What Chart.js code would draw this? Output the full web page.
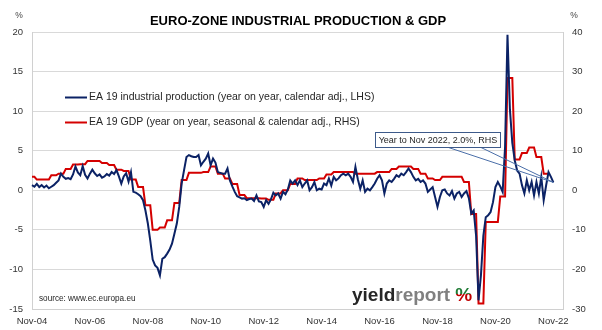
<!DOCTYPE html>
<html>
<head>
<meta charset="utf-8">
<script src="https://cdn.jsdelivr.net/npm/chart.js@4.4.0/dist/chart.umd.min.js"></script>
<style>
  html, body { margin: 0; padding: 0; background: #fff; }
  canvas { display: block; }
</style>
</head>
<body>
<canvas id="ipGdpChart" width="602" height="330"></canvas>
<script>
// EA19 industrial production, % year on year, monthly Nov-04 .. Nov-22
const ipYoY = [
    1.3, 0.9,
    1.6, 0.8, 1.3, 0.7, 1.2, 0.5, 0.9, 1.3, 1.9, 2.5, 4.2, 3.4,
    2.9, 3.1, 2.8, 4.0, 6.0, 4.5, 3.8, 6.1, 3.9, 3.0, 4.2, 5.2,
    4.3, 3.6, 4.0, 3.2, 3.5, 4.1, 3.7, 4.6, 4.1, 5.1, 3.5, 1.7,
    3.5, 4.3, 2.2, 4.6, -0.4, -0.6, -1.0, -1.5, -2.5, -5.1, -8.4, -12.7,
    -17.5, -19.0, -19.6, -21.5, -17.3, -16.9, -16.0, -15.0, -13.5, -11.0, -8.4, -4.2,
    1.7, 5.1, 8.4, 8.9, 8.6, 8.4, 8.4, 8.9, 6.3, 7.2, 8.0, 9.3,
    6.3, 8.0, 7.0, 4.6, 4.4, 4.2, 4.2, 5.5, 2.5, 1.0, -0.4, -1.5,
    -1.8, -2.1, -2.0, -2.5, -2.2, -2.1, -2.7, -1.3, -2.8, -3.0, -4.2, -2.5,
    -3.4, -2.3, -0.6, -1.3, -0.8, -2.1, -0.4, -1.0, 0.2, 2.5, 1.7, 2.5,
    1.3, 2.5, 0.8, 1.7, 2.5, 0.0, 0.8, 2.1, 0.0, 0.4, 0.2, 1.7,
    1.3, 3.0, 1.2, 3.4, 2.5, 3.0, 3.8, 4.2, 3.8, 4.2, 3.4, 2.1,
    5.9, 2.8, 0.4, 2.5, -0.4, 0.4, 0.0, 0.8, 1.7, 2.9, 3.8, 2.5,
    -0.8, 1.7, 2.5, 2.1, 2.9, 3.8, 3.4, 4.2, 3.8, 4.6, 5.5, 4.6,
    3.4, 2.5, 2.9, 2.1, 2.5, 1.7, -0.4, 0.2, 0.8, -1.7, -4.2, -1.7,
    0.0, 0.2, -0.8, -1.3, -0.2, -2.1, -0.8, -0.4, -1.7, -0.8, -0.2, -2.0,
    -5.9, -5.1, -11.5, -27.8, -21.5, -11.5, -6.8, -6.3, -5.5, -3.0, 0.8, 2.1,
    1.0, -0.4, 11.0, 39.3, 20.5, 12.0, 7.6, 5.0, 4.2, 1.3, -0.8, 2.5,
    0.0, 2.1, -1.3, 2.1, -0.8, 3.4, -2.5, 1.2, 4.6, 3.4, 2.0
];

// EA19 GDP, % year on year, quarterly Q4-04 .. Q3-22
const gdpYoY = [
    1.7,
    1.35, 1.35, 1.9, 2.1,
    2.7, 3.25, 3.3, 3.7,
    3.7, 3.45, 3.2, 2.6,
    2.45, 1.35, 0.4, -1.9,
    -5.0, -4.7, -3.8, -1.6,
    1.3, 2.2, 2.2, 2.3,
    3.0, 2.1, 1.5, 0.8,
    -0.6, -1.0, -1.0, -1.05,
    -1.2, -0.4, 0.0, 0.8,
    1.5, 1.3, 1.3, 1.5,
    2.0, 2.3, 2.3, 2.3,
    2.1, 2.1, 2.1, 2.3,
    2.3, 2.7, 3.0, 3.0,
    2.7, 2.1, 1.5, 1.3,
    1.7, 1.7, 1.7, 1.05,
    -3.0, -14.3, -4.0, -4.0,
    -0.8, 14.2, 3.9, 4.7,
    5.4, 4.2, 2.1
];

const xTickLabels = ["Nov-04", "Nov-06", "Nov-08", "Nov-10", "Nov-12",
                     "Nov-14", "Nov-16", "Nov-18", "Nov-20", "Nov-22"];
const firstMonth = { year: 2004, month: 10 }; // Nov-04
const lastMonthLabel = "Mar-23";

const chartTitle = "EURO-ZONE INDUSTRIAL PRODUCTION & GDP";
const ipLabel = "EA 19 industrial production (year on year, calendar adj., LHS)";
const gdpLabel = "EA 19 GDP (year on year, seasonal & calendar adj., RHS)";
const calloutText = "Year to Nov 2022, 2.0%, RHS";
const sourceText = "source: www.ec.europa.eu";

const FONT = "'Liberation Sans', Arial, sans-serif";
const BLUE = "#0b2265";
const RED = "#d40000";

// month categories, e.g. "Nov-04"
const monthNames = ["Jan", "Feb", "Mar", "Apr", "May", "Jun",
                    "Jul", "Aug", "Sep", "Oct", "Nov", "Dec"];
const months = [];
let y = firstMonth.year, mo = firstMonth.month;
while (true) {
    const lbl = monthNames[mo] + "-" + String(y % 100).padStart(2, "0");
    months.push(lbl);
    if (lbl === lastMonthLabel) break;
    mo++;
    if (mo > 11) { mo = 0; y++; }
}

// each quarterly GDP figure is held for the three months of its quarter
const gdpMonthly = months.map((m, i) => {
    const q = Math.floor((i + 1) / 3);
    return q < gdpYoY.length ? gdpYoY[q] : null;
});

const decorPlugin = {
    id: "decor",
    afterDraw(chart) {
        const ctx = chart.ctx;
        const area = chart.chartArea;
        ctx.save();

        // title
        ctx.fillStyle = "#000";
        ctx.font = "bold 13px " + FONT;
        ctx.textAlign = "center";
        ctx.textBaseline = "alphabetic";
        ctx.fillText(chartTitle, 298, 25);

        // unit marks over both axes
        ctx.font = "8.5px " + FONT;
        ctx.fillStyle = "#404040";
        ctx.fillText("%", 19, 18);
        ctx.fillText("%", 574, 18);

        // legend inside the plot
        ctx.font = "10.5px " + FONT;
        ctx.textAlign = "left";
        ctx.textBaseline = "middle";
        [[ipLabel, BLUE, 97.5], [gdpLabel, RED, 122.5]].forEach(([text, color, ly]) => {
            ctx.strokeStyle = color;
            ctx.lineWidth = 2;
            ctx.beginPath();
            ctx.moveTo(65, ly);
            ctx.lineTo(87, ly);
            ctx.stroke();
            ctx.fillStyle = "#262626";
            ctx.fillText(text, 89, ly);
        });

        // callout pointing at the last industrial production reading
        const lastIdx = ipYoY.length - 1;
        const px = chart.scales.x.getPixelForValue(lastIdx);
        const py = chart.scales.y1.getPixelForValue(ipYoY[lastIdx]);
        ctx.strokeStyle = "#4a6ea8";
        ctx.lineWidth = 1;
        ctx.beginPath();
        ctx.moveTo(447, 147);
        ctx.lineTo(px, py);
        ctx.moveTo(480, 147);
        ctx.lineTo(px, py);
        ctx.stroke();
        ctx.fillStyle = "#fff";
        ctx.fillRect(375.5, 132.5, 125, 15);
        ctx.strokeStyle = "#3d5a8a";
        ctx.strokeRect(375.5, 132.5, 125, 15);
        ctx.fillStyle = "#262626";
        ctx.font = "9px " + FONT;
        ctx.textAlign = "center";
        ctx.fillText(calloutText, 438, 140.5);

        // source note
        ctx.textAlign = "left";
        ctx.textBaseline = "alphabetic";
        ctx.font = "8.2px " + FONT;
        ctx.fillStyle = "#262626";
        ctx.fillText(sourceText, area.left + 7, 301);

        // yieldreport logo
        ctx.font = "bold 19px 'Liberation Sans', sans-serif";
        let lx = 352;
        const lb = 301;
        ctx.fillStyle = "#262626";
        ctx.fillText("yield", lx, lb);
        lx += ctx.measureText("yield").width;
        ctx.fillStyle = "#808080";
        ctx.fillText("report", lx, lb);
        lx += ctx.measureText("report").width + 5;
        ctx.save();
        ctx.beginPath();
        ctx.rect(lx - 2, lb - 20, 24, 13);
        ctx.clip();
        ctx.fillStyle = "#1e7b34";
        ctx.fillText("%", lx, lb);
        ctx.restore();
        ctx.save();
        ctx.beginPath();
        ctx.rect(lx - 2, lb - 7, 24, 12);
        ctx.clip();
        ctx.fillStyle = "#c00000";
        ctx.fillText("%", lx, lb);
        ctx.restore();

        ctx.restore();
    }
};

Chart.defaults.font.family = FONT;
Chart.defaults.font.size = 9.5;
Chart.defaults.color = "#333333";

const ctx = document.getElementById("ipGdpChart").getContext("2d");
new Chart(ctx, {
    type: "line",
    data: {
        labels: months,
        datasets: [
            {
                label: ipLabel,
                data: ipYoY,
                yAxisID: "y1",
                borderColor: BLUE,
                borderWidth: 2,
                pointRadius: 0,
                tension: 0,
            },
            {
                label: gdpLabel,
                data: gdpMonthly,
                yAxisID: "y",
                borderColor: RED,
                borderWidth: 2,
                pointRadius: 0,
                tension: 0,
                spanGaps: false,
            },
        ],
    },
    options: {
        responsive: false,
        animation: false,
        layout: { padding: { top: 32, left: 0, right: 0, bottom: 0 } },
        plugins: {
            legend: { display: false },
            tooltip: { enabled: false },
        },
        scales: {
            x: {
                grid: { display: false, drawTicks: false },
                border: { display: true, color: "#d0d0d0" },
                ticks: {
                    autoSkip: false,
                    maxRotation: 0,
                    minRotation: 0,
                    padding: 7,
                    callback: function (value) {
                        const lbl = this.getLabelForValue(value);
                        return xTickLabels.includes(lbl) ? lbl : null;
                    },
                },
                afterFit: (scale) => { scale.height = 21; },
            },
            y: {
                position: "left",
                min: -15,
                max: 20,
                ticks: { stepSize: 5, padding: 9 },
                grid: { color: "#d9d9d9", drawTicks: false },
                border: { color: "#d0d0d0" },
                afterFit: (scale) => { scale.width = 32; },
            },
            y1: {
                position: "right",
                min: -30,
                max: 40,
                ticks: { stepSize: 10, padding: 9 },
                grid: { drawOnChartArea: false, drawTicks: false },
                border: { color: "#d0d0d0" },
                afterFit: (scale) => { scale.width = 39; },
            },
        },
    },
    plugins: [decorPlugin],
});
</script>
</body>
</html>
